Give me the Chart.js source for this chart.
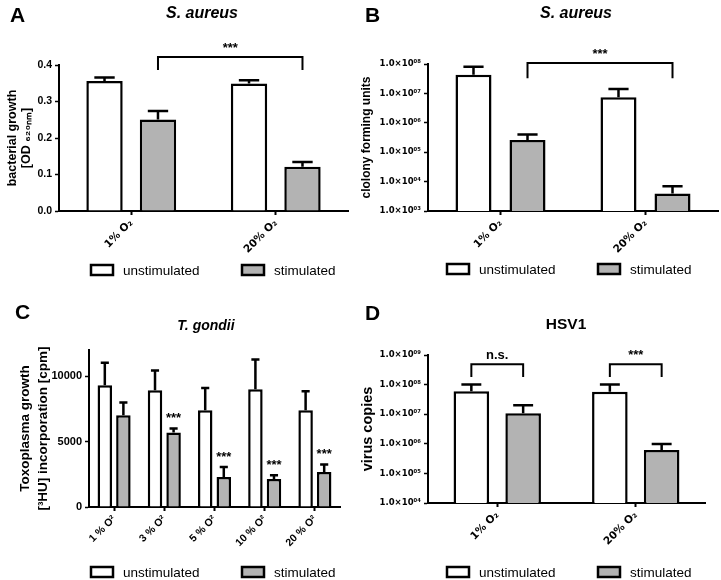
<!DOCTYPE html>
<html>
<head>
<meta charset="utf-8">
<script src="https://cdn.jsdelivr.net/npm/chart.js@4.4.1/dist/chart.umd.min.js"></script>
<style>
  body { margin: 0; background: #fff; width: 721px; height: 580px; position: relative; overflow: hidden; }
  canvas { position: absolute; }
</style>
</head>
<body>
<canvas id="panelA" width="360" height="290" style="left:0;top:0"></canvas>
<canvas id="panelB" width="361" height="290" style="left:360px;top:0"></canvas>
<canvas id="panelC" width="360" height="290" style="left:0;top:290px"></canvas>
<canvas id="panelD" width="361" height="290" style="left:360px;top:290px"></canvas>
<script>
// ---------- data ----------
const seriesNames = ["unstimulated", "stimulated"];
const o2Pair = ["1% O₂", "20% O₂"];
const o2Steps = ["1 % O²", "3 % O²", "5 % O²", "10 % O²", "20 % O²"];

// A: S. aureus, OD620
const aUnstim = [0.356, 0.349];
const aUnstimUpper = [0.366, 0.358];
const aStim = [0.251, 0.121];
const aStimUpper = [0.274, 0.134];
const aTicks = [0, 0.1, 0.2, 0.3, 0.4];
const aTickLabels = ["0.0", "0.1", "0.2", "0.3", "0.4"];

// B: S. aureus, CFU
const bUnstim = [4.3e7, 7.4e6];
const bUnstimUpper = [8.0e7, 1.4e7];
const bStim = [2.6e5, 3.9e3];
const bStimUpper = [4.0e5, 7.0e3];
const bTicks = [1e3, 1e4, 1e5, 1e6, 1e7, 1e8];
const bTickLabels = ["1.0×10⁰³", "1.0×10⁰⁴", "1.0×10⁰⁵", "1.0×10⁰⁶", "1.0×10⁰⁷", "1.0×10⁰⁸"];

// C: T. gondii, cpm
const cUnstim = [9300, 8930, 7400, 9000, 7400];
const cUnstimUpper = [11020, 10430, 9100, 11280, 8850];
const cStim = [7015, 5690, 2300, 2140, 2680];
const cStimUpper = [7990, 6000, 3060, 2420, 3240];
const cStars = ["", "***", "***", "***", "***"];
const cTicks = [0, 5000, 10000];
const cTickLabels = ["0", "5000", "10000"];

// D: HSV1, virus copies
const dUnstim = [6.0e7, 5.7e7];
const dUnstimUpper = [1.0e8, 1.0e8];
const dStim = [1.07e7, 6.2e5];
const dStimUpper = [2.0e7, 9.9e5];
const dTicks = [1e4, 1e5, 1e6, 1e7, 1e8, 1e9];
const dTickLabels = ["1.0×10⁰⁴", "1.0×10⁰⁵", "1.0×10⁰⁶", "1.0×10⁰⁷", "1.0×10⁰⁸", "1.0×10⁰⁹"];

// significance brackets: [dataset, index] -> [dataset, index], bar top / leg end values
const aBrackets = [{ from: [1, 0], to: [1, 1], top: 0.422, leg: 0.386, text: "***" }];
const bBrackets = [{ from: [1, 0], to: [1, 1], top: 1.08e8, leg: 3.3e7, text: "***" }];
const dBrackets = [
  { from: [0, 0], to: [1, 0], top: 4.9e8, leg: 1.8e8, text: "n.s." },
  { from: [0, 1], to: [1, 1], top: 4.9e8, leg: 1.8e8, text: "***" }
];

const FONT = "'Liberation Sans', Arial, Helvetica, sans-serif";
const SUBFONT = "'DejaVu Sans', sans-serif";
const GREY = "#b3b3b3";
Chart.defaults.font.family = FONT;
Chart.defaults.color = "#000";

/* ---------- error bars, brackets, letters, titles, legend ---------- */
const decor = {
  id: "decor",
  afterDatasetsDraw(chart, args, opts) {
    const ctx = chart.ctx;
    const ys = chart.scales.y;
    ctx.save();
    ctx.strokeStyle = "#000";
    ctx.fillStyle = "#000";
    ctx.lineWidth = 2.5;
    chart.data.datasets.forEach((ds, di) => {
      chart.getDatasetMeta(di).data.forEach((bar, i) => {
        const top = ys.getPixelForValue(ds.upper[i]);
        const cap = bar.width * 0.28;
        ctx.beginPath();
        ctx.moveTo(bar.x, bar.y);
        ctx.lineTo(bar.x, top);
        ctx.moveTo(bar.x - cap, top);
        ctx.lineTo(bar.x + cap, top);
        ctx.stroke();
        if (ds.stars && ds.stars[i]) {
          ctx.font = "bold 13px " + FONT;
          ctx.textAlign = "center";
          ctx.textBaseline = "middle";
          ctx.fillText(ds.stars[i], bar.x, top - 10);
        }
      });
    });
    ctx.lineWidth = 2;
    (opts.brackets || []).forEach(b => {
      const x1 = chart.getDatasetMeta(b.from[0]).data[b.from[1]].x;
      const x2 = chart.getDatasetMeta(b.to[0]).data[b.to[1]].x;
      const yt = ys.getPixelForValue(b.top);
      const yl = ys.getPixelForValue(b.leg);
      ctx.beginPath();
      ctx.moveTo(x1, yl);
      ctx.lineTo(x1, yt);
      ctx.lineTo(x2, yt);
      ctx.lineTo(x2, yl);
      ctx.stroke();
      ctx.font = "bold 13px " + FONT;
      ctx.textAlign = "center";
      ctx.textBaseline = "middle";
      ctx.fillText(b.text, (x1 + x2) / 2, yt - 9);
    });
    ctx.restore();
  },
  afterDraw(chart, args, opts) {
    const ctx = chart.ctx;
    ctx.save();
    ctx.fillStyle = "#000";
    // panel letter
    ctx.font = "bold 21px " + FONT;
    ctx.textAlign = "left";
    ctx.textBaseline = "alphabetic";
    ctx.fillText(opts.letter, opts.letterX, opts.letterY);
    // title
    ctx.font = opts.titleFont;
    ctx.textAlign = "center";
    ctx.textBaseline = "middle";
    ctx.fillText(opts.title, opts.titleX, opts.titleY);
    // legend
    ctx.font = "13.5px " + FONT;
    ctx.textAlign = "left";
    chart.data.datasets.forEach((ds, i) => {
      const bx = opts.legendX[i];
      ctx.fillStyle = ds.backgroundColor;
      ctx.fillRect(bx, opts.legendY - 5, 22, 10);
      ctx.strokeStyle = "#000";
      ctx.lineWidth = 2.5;
      ctx.strokeRect(bx, opts.legendY - 5, 22, 10);
      ctx.fillStyle = "#000";
      ctx.fillText(ds.label, bx + 32, opts.legendY + 1);
    });
    ctx.restore();
  }
};

function makePanel(id, p) {
  return new Chart(document.getElementById(id), {
    type: "bar",
    data: {
      labels: p.labels,
      datasets: [
        { label: seriesNames[0], data: p.unstim, upper: p.unstimUpper,
          backgroundColor: "#ffffff", borderColor: "#000", borderWidth: 2.5 },
        { label: seriesNames[1], data: p.stim, upper: p.stimUpper, stars: p.stars,
          backgroundColor: GREY, borderColor: "#000", borderWidth: 2.5 }
      ]
    },
    options: {
      responsive: false,
      animation: false,
      devicePixelRatio: 1,
      categoryPercentage: p.catPct,
      barPercentage: p.barPct,
      layout: { padding: { left: 0, top: p.top, right: p.right, bottom: 0 } },
      plugins: {
        legend: { display: false },
        tooltip: { enabled: false },
        decor: p.decor
      },
      scales: {
        x: {
          grid: { drawOnChartArea: false, offset: false, drawTicks: true, tickLength: 4, tickWidth: 2, tickColor: "#000" },
          border: { display: true, color: "#000", width: 2 },
          ticks: { color: "#000", font: p.xFont, minRotation: 45, maxRotation: 45, autoSkip: false, padding: 2 },
          afterFit: s => { s.height = p.xHeight; }
        },
        y: {
          type: p.yType,
          min: p.yMin,
          max: p.yMax,
          grid: { drawOnChartArea: false, drawTicks: true, tickLength: 4, tickWidth: 1.5, tickColor: "#000" },
          border: { display: true, color: "#000", width: 2 },
          ticks: {
            color: "#000", autoSkip: false, padding: 3,
            font: p.yFont,
            callback: (v, i) => p.yTickLabels[i]
          },
          afterBuildTicks: s => { s.ticks = p.yTicks.map(v => ({ value: v })); },
          title: {
            display: true, text: p.yTitle, color: "#000",
            font: { size: p.yTitleSize, weight: "bold", lineHeight: p.yTitleLH },
            padding: { top: p.yTitlePad, bottom: 0 }
          },
          afterFit: s => { s.width = p.left; }
        }
      }
    },
    plugins: [decor]
  });
}

const pairFont = { family: SUBFONT, size: 10.5, weight: "bold" };
const logFont = { family: SUBFONT, size: 8.5, weight: "bold" };

makePanel("panelA", {
  labels: o2Pair, unstim: aUnstim, unstimUpper: aUnstimUpper, stim: aStim, stimUpper: aStimUpper,
  yType: "linear", yMin: 0, yMax: 0.4, yTicks: aTicks, yTickLabels: aTickLabels,
  yFont: { size: 10.5, weight: "bold" },
  yTitle: ["bacterial growth", "[OD ₆₂₀ₙₘ]"], yTitleSize: 12.5, yTitleLH: 1.1, yTitlePad: 6,
  left: 59, right: 12, top: 65, xHeight: 79, xFont: pairFont, catPct: 0.74, barPct: 0.68,
  decor: { letter: "A", letterX: 10, letterY: 22, title: "S. aureus", titleFont: "italic bold 16px " + FONT,
           titleX: 202, titleY: 14, legendX: [91, 242], legendY: 270, brackets: aBrackets }
});

makePanel("panelB", {
  labels: o2Pair, unstim: bUnstim, unstimUpper: bUnstimUpper, stim: bStim, stimUpper: bStimUpper,
  yType: "logarithmic", yMin: 1e3, yMax: 1e8, yTicks: bTicks, yTickLabels: bTickLabels, yFont: logFont,
  yTitle: "clolony forming units", yTitleSize: 12, yTitleLH: 1.1, yTitlePad: 0,
  left: 68, right: 3, top: 64, xHeight: 79, xFont: pairFont, catPct: 0.745, barPct: 0.667,
  decor: { letter: "B", letterX: 5, letterY: 22, title: "S. aureus", titleFont: "italic bold 16px " + FONT,
           titleX: 216, titleY: 14, legendX: [87, 238], legendY: 269, brackets: bBrackets }
});

makePanel("panelC", {
  labels: o2Steps, unstim: cUnstim, unstimUpper: cUnstimUpper, stim: cStim, stimUpper: cStimUpper, stars: cStars,
  yType: "linear", yMin: 0, yMax: 12000, yTicks: cTicks, yTickLabels: cTickLabels,
  yFont: { size: 11, weight: "bold" },
  yTitle: ["Toxoplasma growth", "[³HU] incorporation [cpm]"], yTitleSize: 13.5, yTitleLH: 1.33, yTitlePad: 16,
  left: 89, right: 20, top: 60, xHeight: 73, xFont: { size: 10.5, weight: "bold" }, catPct: 0.74, barPct: 0.78,
  decor: { letter: "C", letterX: 15, letterY: 29, title: "T. gondii", titleFont: "italic bold 14px " + FONT,
           titleX: 206, titleY: 36, legendX: [91, 242], legendY: 282, brackets: [] }
});

makePanel("panelD", {
  labels: o2Pair, unstim: dUnstim, unstimUpper: dUnstimUpper, stim: dStim, stimUpper: dStimUpper,
  yType: "logarithmic", yMin: 1e4, yMax: 1e9, yTicks: dTicks, yTickLabels: dTickLabels, yFont: logFont,
  yTitle: "virus copies", yTitleSize: 14.5, yTitleLH: 1.1, yTitlePad: 0,
  left: 68, right: 16, top: 65, xHeight: 77, xFont: pairFont, catPct: 0.748, barPct: 0.687,
  decor: { letter: "D", letterX: 5, letterY: 30, title: "HSV1", titleFont: "bold 15.5px " + FONT,
           titleX: 206, titleY: 35, legendX: [87, 238], legendY: 282, brackets: dBrackets }
});
</script>
</body>
</html>
